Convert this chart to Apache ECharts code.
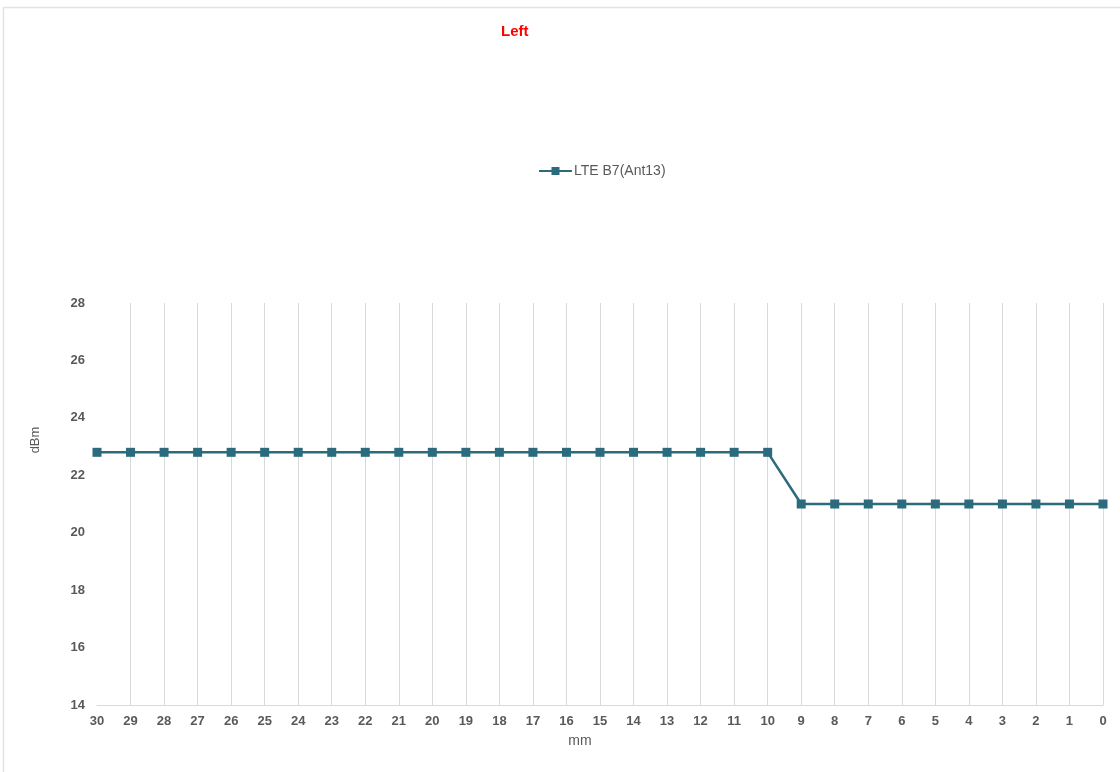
<!DOCTYPE html>
<html>
<head>
<meta charset="utf-8">
<title>Left</title>
<script src="https://cdn.jsdelivr.net/npm/echarts@6/dist/echarts.min.js"></script>
<style>
  html, body { margin: 0; padding: 0; background: #ffffff; }
  #chart { width: 1120px; height: 772px; }
</style>
</head>
<body>
<div id="chart"></div>
<script>
// Distance from the edge (mm), plotted from 30 down to 0
const categories = ['30','29','28','27','26','25','24','23','22','21','20','19','18','17','16','15','14','13','12','11','10','9','8','7','6','5','4','3','2','1','0'];
// Measured power (dBm) for LTE B7 on antenna 13
const seriesName = 'LTE B7(Ant13)';
const powerValues = [22.8,22.8,22.8,22.8,22.8,22.8,22.8,22.8,22.8,22.8,22.8,22.8,22.8,22.8,22.8,22.8,22.8,22.8,22.8,22.8,22.8,21.0,21.0,21.0,21.0,21.0,21.0,21.0,21.0,21.0,21.0];
// Value axis range
const yMin = 14, yMax = 28, yStep = 2;

const textGray = '#595959';
const lineColor = '#2b6b7d';
const fontFamily = 'Arial, "Liberation Sans", sans-serif';

const chart = echarts.init(document.getElementById('chart'), null, { renderer: 'canvas' });

chart.setOption({
  backgroundColor: '#ffffff',
  animation: false,
  graphic: [
    {
      type: 'rect',
      shape: { x: 3.5, y: 7.5, width: 1200, height: 900 },
      style: { fill: 'none', stroke: '#e3e3e3', lineWidth: 1.5 },
      silent: true,
      z: -10
    },
    {
      // value axis title
      type: 'text',
      x: 35,
      y: 440,
      rotation: Math.PI / 2,
      style: {
        text: 'dBm',
        fill: textGray,
        font: '13px ' + fontFamily,
        align: 'center',
        verticalAlign: 'middle'
      },
      silent: true
    },
    {
      // category axis title
      type: 'text',
      x: 580,
      y: 741,
      style: {
        text: 'mm',
        fill: textGray,
        font: '14px ' + fontFamily,
        align: 'center',
        verticalAlign: 'middle'
      },
      silent: true
    }
  ],
  title: {
    text: 'Left',
    left: 496,
    top: 19,
    textStyle: { color: '#ff0000', fontSize: 15, fontWeight: 'bold', fontFamily: fontFamily }
  },
  legend: {
    data: [seriesName],
    left: 538,
    top: 164,
    padding: 0,
    itemWidth: 33,
    itemHeight: 10,
    itemGap: 4,
    textStyle: { color: textGray, fontSize: 14, fontFamily: fontFamily, padding: [0, 0, 0, -3] }
  },
  grid: {
    left: 97,
    right: 17,
    top: 303,
    bottom: 67,
    containLabel: false
  },
  xAxis: {
    type: 'category',
    data: categories,
    boundaryGap: false,
    axisLine: { show: true, lineStyle: { color: '#d9d9d9', width: 1 } },
    axisTick: { show: false },
    axisLabel: { color: textGray, fontSize: 13, fontWeight: 'bold', fontFamily: fontFamily, margin: 10, interval: 0 },
    splitLine: { show: true, showMinLine: false, lineStyle: { color: '#d9d9d9', width: 1 } }
  },
  yAxis: {
    type: 'value',
    min: yMin,
    max: yMax,
    interval: yStep,
    axisLine: { show: false },
    axisTick: { show: false },
    axisLabel: { color: textGray, fontSize: 13, fontWeight: 'bold', fontFamily: fontFamily, margin: 12 },
    splitLine: { show: false }
  },
  series: [{
    name: seriesName,
    type: 'line',
    data: powerValues,
    symbol: 'rect',
    symbolSize: 9,
    showAllSymbol: true,
    itemStyle: { color: lineColor },
    lineStyle: { color: lineColor, width: 2.5 },
    clip: false
  }]
});
</script>
</body>
</html>
